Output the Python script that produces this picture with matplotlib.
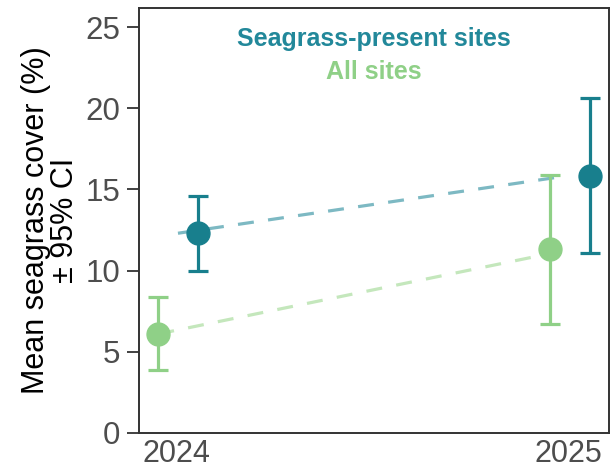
import matplotlib
matplotlib.use("Agg")
import matplotlib.pyplot as plt

# Survey years and mean seagrass cover (%) with 95% CI bounds
years = [2024, 2025]
year_labels = ["2024", "2025"]

present_mean = [12.3, 15.8]
present_low = [10.0, 11.1]
present_high = [14.6, 20.6]

all_mean = [6.1, 11.3]
all_low = [3.9, 6.7]
all_high = [8.4, 15.9]

# horizontal dodge of the two groups and of their trend lines
present_dodge = 0.057
all_dodge = -0.045
present_line_x = [0.005, -0.012]
all_line_x = [-0.045, 0.005]

teal = "#187f8d"
green = "#8fd087"
teal_line = "#7db9c3"
green_line = "#c4e7bc"

plt.rcParams["font.family"] = ["Liberation Sans", "DejaVu Sans"]

fig = plt.figure(figsize=(6.16, 4.71), dpi=100)
ax = fig.add_axes([139 / 616, 38 / 471, 470 / 616, 425 / 471])

# dashed trend lines between years
ax.plot([y + d for y, d in zip(years, present_line_x)], present_mean,
        ls=(0, (5, 4.5)), color=teal_line, lw=2.3, zorder=1)
ax.plot([y + d for y, d in zip(years, all_line_x)], all_mean,
        ls=(0, (5, 4.5)), color=green_line, lw=2.3, zorder=1)


def draw_group(mean, low, high, dodge, color):
    xs = [y + dodge for y in years]
    err = [[m - l for m, l in zip(mean, low)], [h - m for m, h in zip(mean, high)]]
    ax.errorbar(xs, mean, yerr=err, fmt="none", ecolor=color, elinewidth=2.3,
                capsize=7.2, capthick=2.3, zorder=2)
    ax.plot(xs, mean, "o", ms=16.5, color=color, mec=color, zorder=3)


draw_group(all_mean, all_low, all_high, all_dodge, green)
draw_group(present_mean, present_low, present_high, present_dodge, teal)

ax.set_xlim(2024 - 37 / 392, 2025 + 41 / 392)
ax.set_ylim(0, 26.17)
ax.set_yticks([0, 5, 10, 15, 20, 25])
ax.set_xticks(years)
ax.set_xticklabels(year_labels)

ax.tick_params(axis="y", length=8.5, width=1.3, color="#333333", labelsize=22.5,
               labelcolor="#4d4d4d", pad=5)
ax.tick_params(axis="x", length=0, labelsize=22, labelcolor="#4d4d4d", pad=4)
for s in ax.spines.values():
    s.set_linewidth(1.4)
    s.set_color("#333333")

ax.set_ylabel("Mean seagrass cover (%)\n± 95% CI", fontsize=22, color="black",
              linespacing=0.95, labelpad=4)

# group labels inside the panel
ax.text(0.5, 0.927, "Seagrass-present sites", transform=ax.transAxes, ha="center",
        va="center", fontsize=18, fontweight="bold", color="#22889a")
ax.text(0.5, 0.850, "All sites", transform=ax.transAxes, ha="center",
        va="center", fontsize=18, fontweight="bold", color=green)

fig.savefig("out.png", dpi=100)
